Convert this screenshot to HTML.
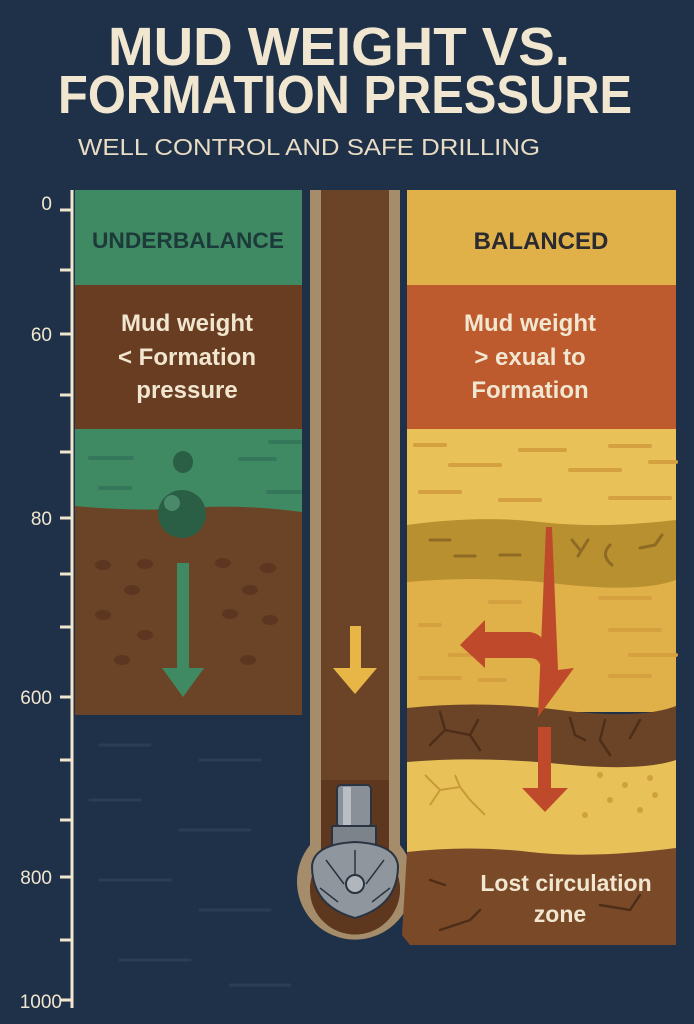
<!DOCTYPE html>
<html><head><meta charset="utf-8"><style>
html,body{margin:0;padding:0;background:#1f3148;}
svg{display:block;}
text{font-family:"Liberation Sans",sans-serif;}
</style></head><body>
<svg width="694" height="1024" viewBox="0 0 694 1024" xmlns="http://www.w3.org/2000/svg">
<rect width="694" height="1024" fill="#1f3148"/>
<g fill="#f1e6cf" font-weight="bold">
<text x="108" y="65" font-size="54" textLength="462" lengthAdjust="spacingAndGlyphs">MUD WEIGHT VS.</text>
<text x="58" y="113" font-size="54" textLength="574" lengthAdjust="spacingAndGlyphs">FORMATION PRESSURE</text>
</g>
<text x="78" y="155" font-size="23" fill="#e8dcc4" textLength="462" lengthAdjust="spacingAndGlyphs">WELL CONTROL AND SAFE DRILLING</text>

<g stroke="#2a3d55" stroke-width="3" stroke-linecap="round">
<line x1="100" y1="745" x2="150" y2="745"/><line x1="200" y1="760" x2="260" y2="760"/>
<line x1="90" y1="800" x2="140" y2="800"/><line x1="180" y1="830" x2="250" y2="830"/>
<line x1="100" y1="880" x2="170" y2="880"/><line x1="200" y1="910" x2="270" y2="910"/>
<line x1="120" y1="960" x2="190" y2="960"/><line x1="230" y1="985" x2="290" y2="985"/>
</g>

<g stroke="#f1e6cf" stroke-width="3">
<line x1="72" y1="190" x2="72" y2="1008"/>
<line x1="60" y1="210" x2="72" y2="210"/><line x1="60" y1="270" x2="72" y2="270"/>
<line x1="60" y1="334" x2="72" y2="334"/><line x1="60" y1="395" x2="72" y2="395"/>
<line x1="60" y1="452" x2="72" y2="452"/><line x1="60" y1="518" x2="72" y2="518"/>
<line x1="60" y1="574" x2="72" y2="574"/><line x1="60" y1="627" x2="72" y2="627"/>
<line x1="60" y1="697" x2="72" y2="697"/><line x1="60" y1="760" x2="72" y2="760"/>
<line x1="60" y1="820" x2="72" y2="820"/><line x1="60" y1="877" x2="72" y2="877"/>
<line x1="60" y1="940" x2="72" y2="940"/><line x1="60" y1="1000" x2="72" y2="1000"/>
</g>
<g fill="#f1e6cf" font-size="19" text-anchor="end">
<text x="52" y="210">0</text><text x="52" y="341">60</text><text x="52" y="525">80</text>
<text x="52" y="704">600</text><text x="52" y="884">800</text><text x="62" y="1008">1000</text>
</g>

<rect x="75" y="190" width="227" height="95" fill="#3f8a63"/>
<text x="188" y="248" font-size="22" font-weight="bold" fill="#1d3a3a" text-anchor="middle" textLength="192" lengthAdjust="spacingAndGlyphs">UNDERBALANCE</text>
<rect x="75" y="285" width="227" height="144" fill="#693d22"/>
<g fill="#f1e6cf" font-size="24" font-weight="bold" text-anchor="middle">
<text x="187" y="331">Mud weight</text><text x="187" y="365">&lt; Formation</text><text x="187" y="398">pressure</text>
</g>
<rect x="75" y="429" width="227" height="100" fill="#3f8a63"/>
<g stroke="#35775a" stroke-width="4" stroke-linecap="round">
<line x1="90" y1="458" x2="132" y2="458"/><line x1="240" y1="459" x2="275" y2="459"/>
<line x1="100" y1="488" x2="130" y2="488"/><line x1="268" y1="492" x2="300" y2="492"/>
<line x1="270" y1="442" x2="300" y2="442"/>
</g>
<path d="M75 506 Q140 512 190 508 T302 512 L302 715 L75 715 Z" fill="#6b4427"/>
<g fill="#5c3620">
<ellipse cx="103" cy="565" rx="8" ry="5"/><ellipse cx="145" cy="564" rx="8" ry="5"/><ellipse cx="132" cy="590" rx="8" ry="5"/>
<ellipse cx="103" cy="615" rx="8" ry="5"/><ellipse cx="145" cy="635" rx="8" ry="5"/><ellipse cx="223" cy="563" rx="8" ry="5"/>
<ellipse cx="268" cy="568" rx="8" ry="5"/><ellipse cx="250" cy="590" rx="8" ry="5"/><ellipse cx="230" cy="614" rx="8" ry="5"/>
<ellipse cx="270" cy="620" rx="8" ry="5"/><ellipse cx="122" cy="660" rx="8" ry="5"/><ellipse cx="248" cy="660" rx="8" ry="5"/>
</g>
<ellipse cx="183" cy="462" rx="10" ry="11" fill="#2a5e45"/>
<circle cx="182" cy="514" r="24" fill="#2a5e45"/>
<circle cx="172" cy="503" r="8" fill="#4a8a6a"/>
<rect x="177" y="563" width="12" height="110" fill="#3f8a63"/>
<polygon points="162,668 204,668 183,697" fill="#3f8a63"/>

<path d="M310 190 L400 190 L400 845 A58 58 0 1 1 310 845 Z" fill="#a58c6a"/>
<path d="M321 190 L389 190 L389 860 A45 45 0 1 1 321 860 Z" fill="#6b4427"/>
<path d="M321 780 L389 780 L389 860 A45 45 0 1 1 321 860 Z" fill="#5e371f"/>
<rect x="350" y="626" width="11" height="46" fill="#e8b646"/>
<polygon points="333,668 377,668 355,694" fill="#e8b646"/>
<rect x="337" y="785" width="34" height="42" rx="4" fill="#8a9097" stroke="#2a3340" stroke-width="2"/>
<rect x="343" y="787" width="8" height="38" fill="#b8bec4"/>
<rect x="332" y="826" width="44" height="20" fill="#7c838b" stroke="#2a3340" stroke-width="2"/>
<path d="M312 866 Q314 844 355 842 Q396 844 398 866 Q398 906 355 918 Q312 906 312 866 Z" fill="#8f969e" stroke="#2a3340" stroke-width="2"/>
<circle cx="355" cy="884" r="9" fill="#b0b6bc" stroke="#2a3340" stroke-width="2"/>
<g stroke="#2a3340" stroke-width="1.5" fill="none"><path d="M326 860 L344 884 M384 860 L366 884 M355 850 L355 875 M320 888 L338 902 M390 888 L372 902"/></g>

<rect x="407" y="190" width="269" height="95" fill="#e0b049"/>
<text x="541" y="249" font-size="24" font-weight="bold" fill="#2a2a30" text-anchor="middle">BALANCED</text>
<rect x="407" y="285" width="269" height="144" fill="#bd5a2e"/>
<g fill="#f1e6cf" font-size="24" font-weight="bold" text-anchor="middle">
<text x="530" y="331">Mud weight</text><text x="530" y="365">&gt; exual to</text><text x="530" y="398">Formation</text>
</g>
<rect x="407" y="429" width="269" height="100" fill="#e8c259"/>
<path d="M407 525 Q480 515 540 522 T676 520 L676 590 L407 590 Z" fill="#b8902f"/>
<path d="M407 582 Q480 575 560 584 T676 580 L676 712 L407 712 Z" fill="#e0b049"/>
<path d="M407 708 Q480 700 560 710 T676 706 L676 770 L407 770 Z" fill="#6b4427"/>
<path d="M407 762 Q480 756 560 764 T676 760 L676 858 L407 858 Z" fill="#e8c259"/>
<path d="M407 852 Q470 845 530 852 T676 848 L676 945 L410 945 L402 935 Z" fill="#7a4a28"/>
<g stroke="#d5a03f" stroke-width="4" stroke-linecap="round">
<line x1="415" y1="445" x2="445" y2="445"/><line x1="520" y1="450" x2="565" y2="450"/><line x1="610" y1="446" x2="650" y2="446"/>
<line x1="450" y1="465" x2="500" y2="465"/><line x1="570" y1="470" x2="620" y2="470"/><line x1="650" y1="462" x2="676" y2="462"/>
<line x1="420" y1="492" x2="460" y2="492"/><line x1="500" y1="500" x2="540" y2="500"/><line x1="610" y1="498" x2="670" y2="498"/>
<line x1="490" y1="602" x2="520" y2="602"/><line x1="600" y1="598" x2="650" y2="598"/><line x1="420" y1="625" x2="440" y2="625"/>
<line x1="610" y1="630" x2="660" y2="630"/><line x1="450" y1="655" x2="470" y2="655"/><line x1="630" y1="655" x2="676" y2="655"/>
<line x1="420" y1="678" x2="460" y2="678"/><line x1="480" y1="680" x2="505" y2="680"/><line x1="610" y1="676" x2="650" y2="676"/>
</g>
<g stroke="#8e6a25" stroke-width="3" stroke-linecap="round" fill="none">
<line x1="430" y1="540" x2="450" y2="540"/><line x1="455" y1="556" x2="475" y2="556"/><line x1="500" y1="555" x2="520" y2="555"/>
<path d="M572 540 L580 550 M588 540 L578 556 M610 545 Q600 555 612 565 M640 548 L655 545 L662 535"/>
</g>
<g stroke="#4e2e18" stroke-width="2.5" fill="none" stroke-linecap="round">
<path d="M440 712 L445 730 L430 745 M445 730 L470 735 L480 750 M470 735 L478 720"/>
<path d="M570 718 L575 735 L585 740 M605 720 L600 740 L610 755 M640 720 L630 738"/>
<path d="M430 880 L445 885 M440 930 L470 920 L480 910 M600 905 L630 910 L640 895"/>
</g>
<g stroke="#c89a3a" stroke-width="2" fill="none"><path d="M425 775 L440 790 L430 805 M440 790 L460 787 L470 800 M460 787 L455 775 M470 800 L485 815"/></g>
<g fill="#cfa03f"><circle cx="600" cy="775" r="3"/><circle cx="625" cy="785" r="3"/><circle cx="650" cy="778" r="3"/><circle cx="610" cy="800" r="3"/><circle cx="640" cy="810" r="3"/><circle cx="655" cy="795" r="3"/><circle cx="585" cy="815" r="3"/></g>
<path d="M546 527 L552 527 L558 670 L574 668 L538 717 Z" fill="#bf4a2b"/>
<path d="M542 645 Q545 635 530 632 L485 632 L485 620 L460 645 L485 668 L485 658 L530 658 Q538 658 540 665 Z" fill="#bf4a2b"/>
<rect x="538" y="727" width="13" height="66" fill="#bf4a2b"/>
<polygon points="522,788 568,788 545,812" fill="#bf4a2b"/>
<g fill="#f1e6cf" font-size="23" font-weight="bold" text-anchor="middle">
<text x="566" y="891">Lost circulation</text><text x="560" y="922">zone</text>
</g>
</svg>
</body></html>
